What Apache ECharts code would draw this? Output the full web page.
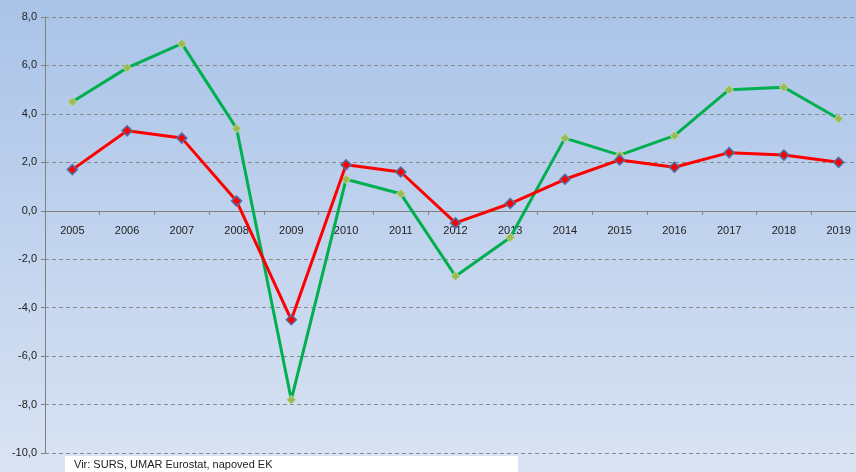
<!DOCTYPE html>
<html>
<head>
<meta charset="utf-8">
<script src="https://cdn.jsdelivr.net/npm/echarts@6/dist/echarts.min.js"></script>
<style>
    html, body { margin: 0; padding: 0; }
    #main {
        width: 856px; height: 472px;
        background: linear-gradient(to bottom, #a9c3e8 0%, #d9e3f3 100%);
    }
</style>
</head>
<body>
<div id="main"></div>
<script type="text/javascript">
var years = ['2005','2006','2007','2008','2009','2010','2011','2012','2013','2014','2015','2016','2017','2018','2019'];
var redSeries = [1.7, 3.3, 3.0, 0.4, -4.5, 1.9, 1.6, -0.5, 0.3, 1.3, 2.1, 1.8, 2.4, 2.3, 2.0];
var greenSeries = [4.5, 5.9, 6.9, 3.4, -7.8, 1.3, 0.7, -2.7, -1.1, 3.0, 2.3, 3.1, 5.0, 5.1, 3.8];
var sourceText = 'Vir: SURS, UMAR Eurostat, napoved EK';

var myChart = echarts.init(document.getElementById('main'));
var option = {
    backgroundColor: 'transparent',
    animation: false,
    textStyle: { fontFamily: 'Liberation Sans, Arial, sans-serif' },
    grid: { left: 45, top: 17, width: 821, height: 436, containLabel: false, outerBoundsMode: 'none' },
    xAxis: {
        type: 'category',
        data: years,
        boundaryGap: true,
        offset: -242.2,
        axisLine: { onZero: false, lineStyle: { color: '#808080', width: 1 } },
        axisTick: { show: true, interval: 0, length: 4, lineStyle: { color: '#808080' } },
        axisLabel: { color: '#222', fontSize: 11, margin: 15, interval: 0 }
    },
    yAxis: {
        type: 'value',
        min: -10,
        max: 8,
        interval: 2,
        axisLine: { show: true, lineStyle: { color: '#808080' } },
        axisTick: { show: true, length: 4, lineStyle: { color: '#808080' } },
        axisLabel: {
            color: '#222', fontSize: 11, margin: 8,
            formatter: function (v) { return v.toFixed(1).replace('.', ','); }
        },
        splitLine: { show: true, lineStyle: { color: '#8a8a8a', type: [4, 3], width: 1 } }
    },
    series: [{
        name: 'green',
        type: 'line',
        data: greenSeries,
        symbol: 'diamond',
        symbolSize: 9,
        lineStyle: { color: '#00b050', width: 3 },
        itemStyle: { color: '#9bbb59', borderColor: '#c4d79b', borderWidth: 1 },
        z: 2
    }, {
        name: 'red',
        type: 'line',
        data: redSeries,
        symbol: 'diamond',
        symbolSize: 10,
        lineStyle: { color: '#ff0000', width: 3 },
        itemStyle: { color: '#ff0000', borderColor: '#4f6fa8', borderWidth: 1.5 },
        z: 3
    }],
    graphic: [{
        type: 'rect',
        left: 65, top: 456,
        shape: { width: 453, height: 16 },
        style: { fill: '#ffffff' },
        z: 10
    }, {
        type: 'text',
        left: 74, top: 459,
        style: { text: sourceText, fill: '#222', font: '11px Liberation Sans, Arial, sans-serif' },
        z: 11
    }]
};
myChart.setOption(option);
</script>
</body>
</html>
